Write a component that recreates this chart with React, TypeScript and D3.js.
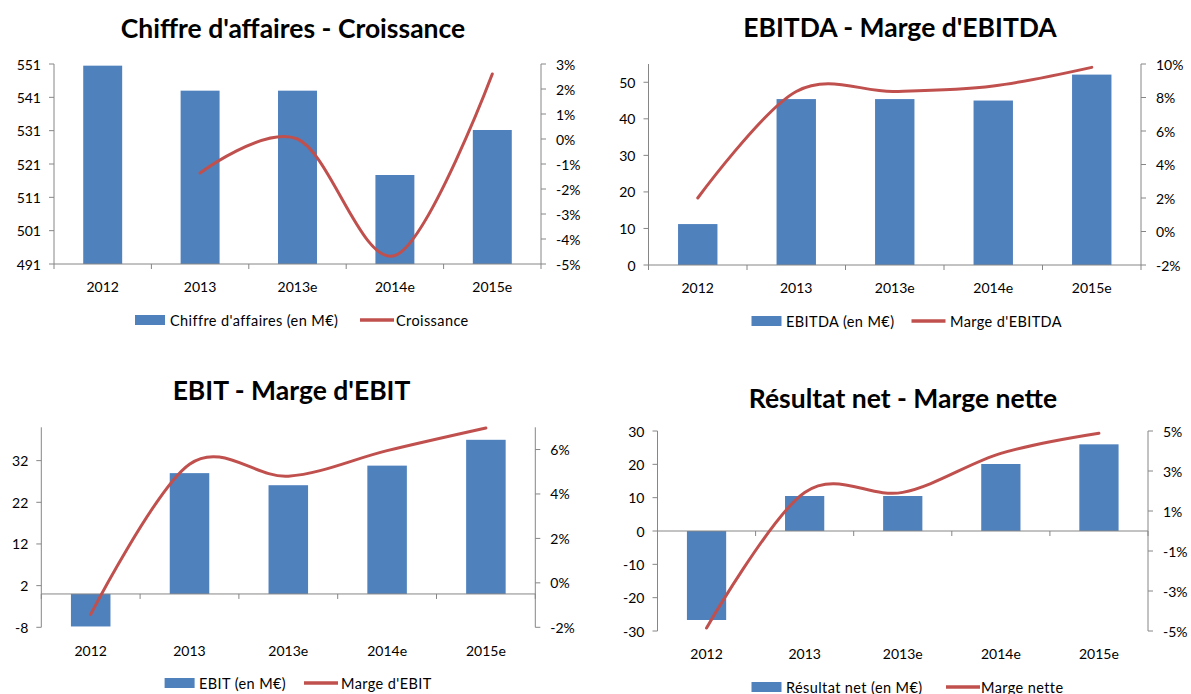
import React from "react";
import * as d3 from "d3";

// categories
const years = ["2012", "2013", "2013e", "2014e", "2015e"];

// Chiffre d'affaires / Croissance
const caValues = [550.5, 543, 543, 517.7, 531.2];
const croissance: (number | null)[] = [null, -1.36, 0.0, -4.66, 2.6];
const caTicks = [491, 501, 511, 521, 531, 541, 551];
const croissanceTicks = [-5, -4, -3, -2, -1, 0, 1, 2, 3];

// EBITDA / Marge d'EBITDA
const ebitdaValues = [11.2, 45.4, 45.4, 45.0, 52.1];
const ebitdaMarge = [2.0, 8.36, 8.36, 8.69, 9.8];
const ebitdaTicks = [0, 10, 20, 30, 40, 50];
const ebitdaMargeTicks = [-2, 0, 2, 4, 6, 8, 10];

// EBIT / Marge d'EBIT
const ebitValues = [-7.8, 29.0, 26.1, 30.8, 37.0];
const ebitMarge = [-1.42, 5.34, 4.8, 5.95, 6.97];
const ebitTicks = [-8, 2, 12, 22, 32];
const ebitMargeTicks = [-2, 0, 2, 4, 6];

// Résultat net / Marge nette
const netValues = [-26.7, 10.5, 10.5, 20.1, 26.0];
const netMarge = [-4.85, 1.93, 1.93, 3.88, 4.89];
const netTicks = [-30, -20, -10, 0, 10, 20, 30];
const netMargeTicks = [-5, -3, -1, 1, 3, 5];

const BAR = "#4F81BD";
const LINE = "#C0504D";
const AXIS = "#868686";
const FONT = "Lato, 'Open Sans', sans-serif";

type Props = {
  title: string;
  titleX: number;
  titleY: number;
  left: number;
  right: number;
  top: number;
  bottom: number;
  labelY: number;
  legendY: number;
  legendX: number[]; // rect x, bar text x, line start, line text x
  barLabel: string;
  lineLabel: string;
  bars: number[];
  line: (number | null)[];
  yDomain: [number, number];
  yTicks: number[];
  y2Domain: [number, number];
  y2Ticks: number[];
};

function ComboChart(p: Props) {
  const x = d3.scaleBand().domain(years).range([p.left, p.right]);
  const y = d3.scaleLinear().domain(p.yDomain).range([p.bottom, p.top]);
  const y2 = d3.scaleLinear().domain(p.y2Domain).range([p.bottom, p.top]);
  const base = y(Math.max(p.yDomain[0], Math.min(0, p.yDomain[1])));
  const bw = x.bandwidth() * 0.4;

  // excel-like smoothed line
  const lineGen = d3
    .line<number | null>()
    .defined((d) => d !== null)
    .x((_, i) => (x(years[i]) as number) + x.bandwidth() / 2)
    .y((d) => y2(d as number))
    .curve(d3.curveCardinal.tension(0));

  const boundaries = years.map((c) => x(c) as number).concat([p.right]);

  return (
    <g fontFamily={FONT}>
      <text
        x={p.titleX}
        y={p.titleY}
        textAnchor="middle"
        dominantBaseline="central"
        fontSize={26.5}
        fontWeight="bold"
        fill="#000"
      >
        {p.title}
      </text>

      {/* bars */}
      {p.bars.map((v, i) => {
        const yv = y(v);
        return (
          <rect
            key={i}
            x={(x(years[i]) as number) + (x.bandwidth() - bw) / 2}
            y={Math.min(yv, base)}
            width={bw}
            height={Math.abs(base - yv)}
            fill={BAR}
          />
        );
      })}

      {/* left axis */}
      <line x1={p.left} x2={p.left} y1={p.top} y2={p.bottom} stroke={AXIS} />
      {p.yTicks.map((t) => (
        <g key={"l" + t}>
          <line x1={p.left - 5} x2={p.left} y1={y(t)} y2={y(t)} stroke={AXIS} />
          <text
            x={p.left - 13}
            y={y(t)}
            textAnchor="end"
            dominantBaseline="central"
            fontSize={14}
            fill="#000"
          >
            {t}
          </text>
        </g>
      ))}

      {/* right axis */}
      <line x1={p.right} x2={p.right} y1={p.top} y2={p.bottom} stroke={AXIS} />
      {p.y2Ticks.map((t) => (
        <g key={"r" + t}>
          <line x1={p.right} x2={p.right + 5} y1={y2(t)} y2={y2(t)} stroke={AXIS} />
          <text
            x={p.right + 15}
            y={y2(t)}
            textAnchor="start"
            dominantBaseline="central"
            fontSize={14}
            fill="#000"
          >
            {t + "%"}
          </text>
        </g>
      ))}

      {/* category axis */}
      <line x1={p.left} x2={p.right} y1={base} y2={base} stroke={AXIS} />
      {boundaries.map((b, i) => (
        <line key={"t" + i} x1={b} x2={b} y1={base} y2={base + 5} stroke={AXIS} />
      ))}
      {years.map((c) => (
        <text
          key={c}
          x={(x(c) as number) + x.bandwidth() / 2}
          y={p.labelY}
          textAnchor="middle"
          dominantBaseline="central"
          fontSize={14}
          fill="#000"
        >
          {c}
        </text>
      ))}

      {/* line */}
      <path
        d={lineGen(p.line) || ""}
        fill="none"
        stroke={LINE}
        strokeWidth={3}
        strokeLinecap="round"
        strokeLinejoin="round"
      />

      {/* legend */}
      <rect x={p.legendX[0]} y={p.legendY - 5} width={30} height={10} fill={BAR} />
      <text
        x={p.legendX[1]}
        y={p.legendY}
        dominantBaseline="central"
        fontSize={14.5}
        letterSpacing={0.4}
        fill="#000"
      >
        {p.barLabel}
      </text>
      <line
        x1={p.legendX[2]}
        x2={p.legendX[2] + 34}
        y1={p.legendY}
        y2={p.legendY}
        stroke={LINE}
        strokeWidth={3.5}
      />
      <text
        x={p.legendX[3]}
        y={p.legendY}
        dominantBaseline="central"
        fontSize={14.5}
        letterSpacing={0.4}
        fill="#000"
      >
        {p.lineLabel}
      </text>
    </g>
  );
}

export default function App() {
  return (
    <svg
      width={1191}
      height={694}
      style={{ position: "absolute", left: 0, top: 0, background: "#fff" }}
    >
      <ComboChart
        title="Chiffre d'affaires - Croissance"
        titleX={293}
        titleY={28}
        left={54}
        right={541}
        top={64}
        bottom={264}
        labelY={286}
        legendY={320}
        legendX={[135, 170, 360, 396]}
        barLabel="Chiffre d'affaires (en M€)"
        lineLabel="Croissance"
        bars={caValues}
        line={croissance}
        yDomain={[491, 551]}
        yTicks={caTicks}
        y2Domain={[-5, 3]}
        y2Ticks={croissanceTicks}
      />
      <ComboChart
        title="EBITDA - Marge d'EBITDA"
        titleX={900}
        titleY={27}
        left={648.5}
        right={1141}
        top={64}
        bottom={265}
        labelY={287}
        legendY={321}
        legendX={[751.5, 786, 911.5, 950]}
        barLabel="EBITDA  (en M€)"
        lineLabel="Marge d'EBITDA"
        bars={ebitdaValues}
        line={ebitdaMarge}
        yDomain={[0, 55]}
        yTicks={ebitdaTicks}
        y2Domain={[-2, 10]}
        y2Ticks={ebitdaMargeTicks}
      />
      <ComboChart
        title="EBIT - Marge d'EBIT"
        titleX={291.5}
        titleY={390}
        left={41.3}
        right={535.3}
        top={427.3}
        bottom={627.3}
        labelY={650}
        legendY={683}
        legendX={[164.6, 199, 304, 341]}
        barLabel="EBIT (en M€)"
        lineLabel="Marge d'EBIT"
        bars={ebitValues}
        line={ebitMarge}
        yDomain={[-8, 40]}
        yTicks={ebitTicks}
        y2Domain={[-2, 7]}
        y2Ticks={ebitMargeTicks}
      />
      <ComboChart
        title="Résultat net - Marge nette"
        titleX={903}
        titleY={398}
        left={657.5}
        right={1148}
        top={431}
        bottom={631}
        labelY={653}
        legendY={687}
        legendX={[751.5, 786, 946, 981]}
        barLabel="Résultat net  (en M€)"
        lineLabel="Marge nette"
        bars={netValues}
        line={netMarge}
        yDomain={[-30, 30]}
        yTicks={netTicks}
        y2Domain={[-5, 5]}
        y2Ticks={netMargeTicks}
      />
    </svg>
  );
}
